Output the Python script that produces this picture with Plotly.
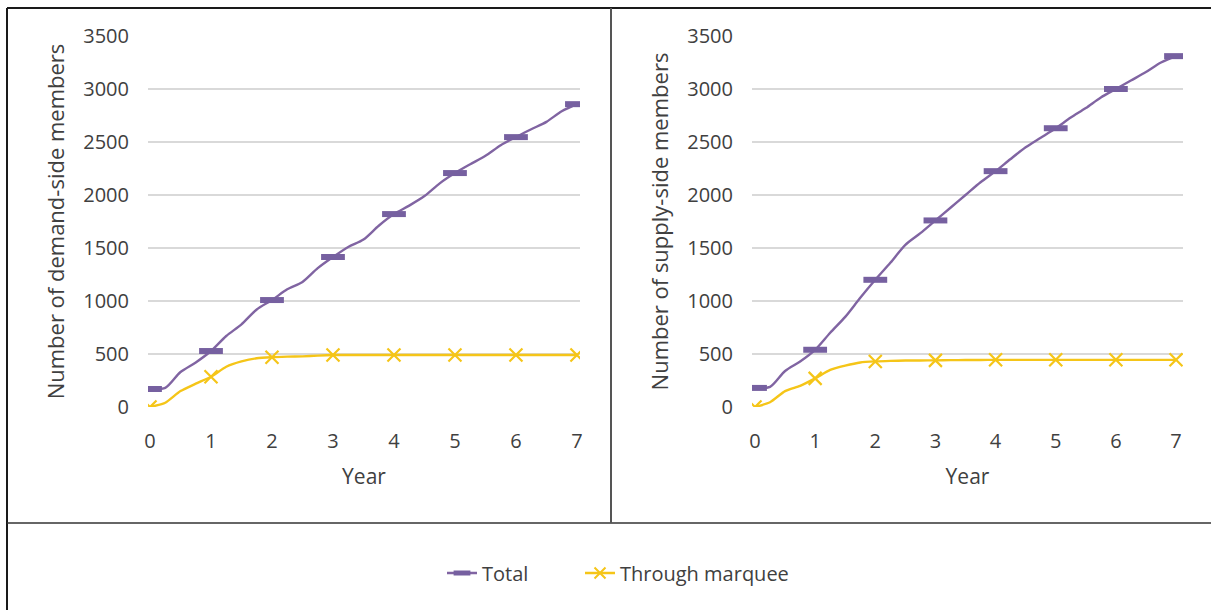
import plotly.graph_objects as go

# ---- data ----
years = [0, 0.25, 0.5, 0.75, 1, 1.25, 1.5, 1.75, 2, 2.25, 2.5, 2.75, 3, 3.25, 3.5, 3.75,
         4, 4.25, 4.5, 4.75, 5, 5.25, 5.5, 5.75, 6, 6.25, 6.5, 6.75, 7]
marker_years = [0, 1, 2, 3, 4, 5, 6, 7]

demand_total = [170, 180, 330, 420, 528, 670, 780, 920, 1009, 1110, 1180, 1310, 1415, 1510, 1580, 1710,
                1820, 1900, 1990, 2110, 2207, 2290, 2370, 2470, 2546, 2620, 2690, 2790, 2857]
demand_marquee = [0, 40, 150, 220, 285, 380, 430, 460, 470, 475, 478, 485, 490, 490, 490, 490,
                  490, 490, 490, 490, 490, 490, 490, 490, 490, 490, 490, 490, 490]
supply_total = [180, 190, 340, 430, 540, 700, 850, 1030, 1200, 1360, 1530, 1640, 1760, 1880, 2000, 2120,
                2225, 2340, 2450, 2540, 2630, 2730, 2820, 2920, 3000, 3080, 3160, 3250, 3310]
supply_marquee = [0, 45, 150, 200, 270, 350, 390, 420, 430, 435, 438, 439, 440, 442, 443, 444,
                  445, 445, 445, 445, 445, 445, 445, 445, 445, 445, 445, 445, 445]

y_ticks = [0, 500, 1000, 1500, 2000, 2500, 3000, 3500]
x_ticks = [0, 1, 2, 3, 4, 5, 6, 7]
y_titles = ["Number of demand-side members", "Number of supply-side members"]

PURPLE = "#8064A2"
PURPLE_M = "#7660A0"
YELLOW = "#F5C518"
FONT = "Open Sans"
TXT = "#404040"

W, H = 1211, 610


def at_markers(xs, ys):
    return [y for x, y in zip(xs, ys) if x in marker_years]


fig = go.Figure()
panels = [(demand_total, demand_marquee, "x", "y"), (supply_total, supply_marquee, "x2", "y2")]
for i, (tot, mq, xa, ya) in enumerate(panels):
    fig.add_trace(go.Scatter(x=years, y=tot, mode="lines", line=dict(color=PURPLE, width=2.4, shape="spline", smoothing=0.8),
                             xaxis=xa, yaxis=ya, showlegend=False, hoverinfo="skip"))
    fig.add_trace(go.Scatter(x=years, y=mq, mode="lines", line=dict(color=YELLOW, width=2.4, shape="spline", smoothing=0.6),
                             xaxis=xa, yaxis=ya, showlegend=False, hoverinfo="skip"))
    fig.add_trace(go.Scatter(x=marker_years, y=at_markers(years, tot), mode="markers",
                             marker=dict(symbol="line-ew", size=17, line=dict(color=PURPLE_M, width=6)),
                             xaxis=xa, yaxis=ya, showlegend=False))
    fig.add_trace(go.Scatter(x=marker_years, y=at_markers(years, mq), mode="markers",
                             marker=dict(symbol="x-thin", size=13, line=dict(color=YELLOW, width=2.2)),
                             xaxis=xa, yaxis=ya, showlegend=False))

# legend entries (two legends so their spacing can follow the reference)
fig.add_trace(go.Scatter(x=[None], y=[None], mode="lines+markers", name="Total", legend="legend",
                         line=dict(color=PURPLE, width=2.4),
                         marker=dict(symbol="line-ew", size=12, line=dict(color=PURPLE_M, width=5))))
fig.add_trace(go.Scatter(x=[None], y=[None], mode="lines+markers", name="Through marquee", legend="legend2",
                         line=dict(color=YELLOW, width=2.4),
                         marker=dict(symbol="x-thin", size=11, line=dict(color=YELLOW, width=2))))

y_top = (H - 36) / H
y_bot = (H - 407) / H

common_x = dict(tickvals=x_ticks, showgrid=False, zeroline=False, showline=False, ticks="",
                ticklabelstandoff=20, automargin=False,
                tickfont=dict(family=FONT, size=20, color=TXT),
                title=dict(text="Year", font=dict(family=FONT, size=21, color=TXT), standoff=16),
                fixedrange=True)
common_y = dict(range=[0, 3500], tickvals=y_ticks, showgrid=True, gridcolor="#D9D9D9", gridwidth=1.5,
                zeroline=False, showline=False, ticks="", ticklabelstandoff=18, automargin=False,
                tickfont=dict(family=FONT, size=20, color=TXT), domain=[y_bot, y_top], fixedrange=True)

leg_common = dict(orientation="h", y=(H - 573) / H, yanchor="middle", xanchor="left",
                  font=dict(family=FONT, size=20, color=TXT), bgcolor="rgba(0,0,0,0)")

fig.update_layout(
    width=W, height=H,
    margin=dict(l=0, r=0, t=0, b=0, autoexpand=False),
    paper_bgcolor="white", plot_bgcolor="white",
    xaxis=dict(common_x, domain=[148 / W, 580 / W], range=[-0.033, 7.05], anchor="y"),
    yaxis=dict(common_y, anchor="x",
               title=dict(text=y_titles[0], font=dict(family=FONT, size=22, color=TXT), standoff=12)),
    xaxis2=dict(common_x, domain=[752 / W, 1183 / W], range=[-0.05, 7.116], anchor="y2"),
    yaxis2=dict(common_y, anchor="x2",
                title=dict(text=y_titles[1], font=dict(family=FONT, size=22, color=TXT), standoff=12)),
    legend=dict(leg_common, x=442 / W),
    legend2=dict(leg_common, x=580 / W),
    shapes=[
        dict(type="line", xref="paper", yref="paper", x0=7 / W, x1=1, y0=(H - 8) / H, y1=(H - 8) / H,
             line=dict(color="#1a1a1a", width=2)),
        dict(type="line", xref="paper", yref="paper", x0=7 / W, x1=7 / W, y0=0, y1=(H - 8) / H,
             line=dict(color="#1a1a1a", width=2)),
        dict(type="line", xref="paper", yref="paper", x0=7 / W, x1=1, y0=(H - 523) / H, y1=(H - 523) / H,
             line=dict(color="#333333", width=1.5)),
        dict(type="line", xref="paper", yref="paper", x0=611 / W, x1=611 / W, y0=(H - 523) / H, y1=(H - 8) / H,
             line=dict(color="#555555", width=2)),
    ],
)

fig.write_html("out.html", config={"displayModeBar": False},
               post_script="document.body.style.margin='0px';")
